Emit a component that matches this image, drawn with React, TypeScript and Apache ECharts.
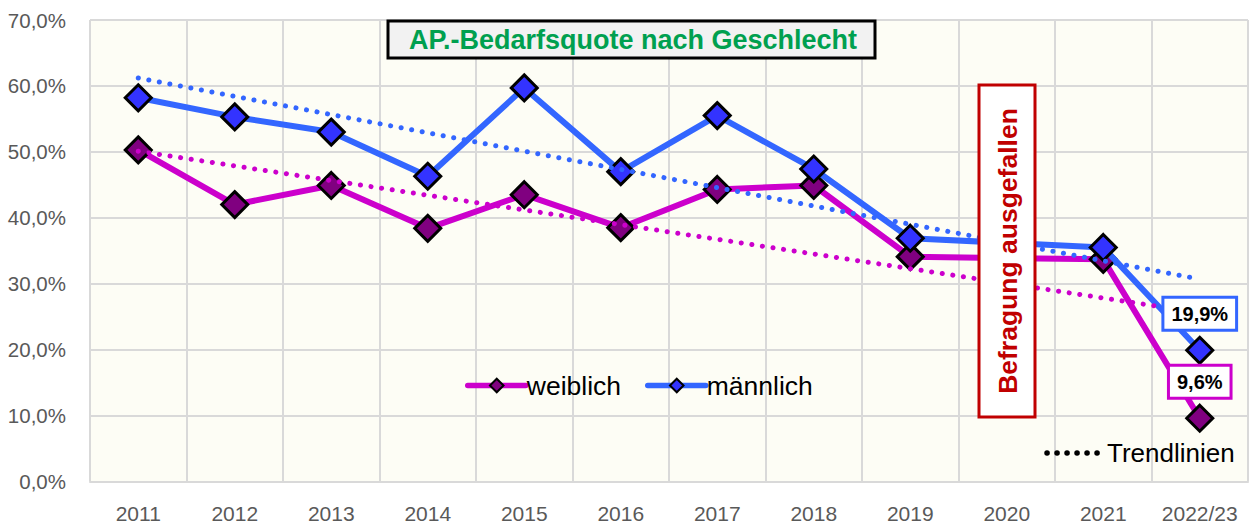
import React, { useEffect, useRef } from "react";
import * as echarts from "echarts";

const categories = ["2011", "2012", "2013", "2014", "2015", "2016", "2017", "2018", "2019", "2020", "2021", "2022/23"];
const weiblich = [50.3, 42.0, 44.9, 38.4, 43.5, 38.5, 44.3, 44.9, 34.1, null, 33.7, 9.6];
const maennlich = [58.2, 55.3, 53.0, 46.3, 59.7, 47.0, 55.5, 47.4, 36.9, null, 35.5, 19.9];
// Trendline endpoints (at 2011 and 2022/23)
const trendWeiblich = [50.1, 25.6];
const trendMaennlich = [61.2, 30.7];

const PINK = "#CC00CC";
const PURPLE = "#800080";
const BLUE = "#3366FF";
const BLUE_FILL = "#3333FF";
const GRID = "#D9D9D9";
const FONT = "'Liberation Sans', Arial, sans-serif";

const fmt = (v: number) => v.toFixed(1).replace(".", ",") + "%";

function lastOnly(values: (number | null)[]) {
  return values.map((v, i) => (i === values.length - 1 ? v : null));
}

function labelSeries(name: string, values: (number | null)[], color: string) {
  return {
    name,
    type: "scatter",
    data: lastOnly(values),
    symbolSize: 1,
    itemStyle: { color: "rgba(0,0,0,0)", opacity: 1 },
    silent: true,
    z: 20,
    label: {
      show: true,
      position: "top",
      distance: 21,
      formatter: (p: any) => fmt(p.value),
      color: "#000",
      opacity: 1,
      fontFamily: FONT,
      fontWeight: "bold",
      fontSize: 20,
      lineHeight: 23,
      backgroundColor: "#FFFFFF",
      borderColor: color,
      borderWidth: 3,
      padding: [4, 7, 3, 7],
    },
  };
}

function trendMark(ends: number[], color: string) {
  return {
    silent: true,
    symbol: ["none", "none"],
    label: { show: false },
    z: 10,
    lineStyle: { color, width: 5, type: [0.1, 10.6], cap: "round", opacity: 1 },
    data: [
      [
        { coord: [categories[0], ends[0]] },
        { coord: [categories[categories.length - 1], ends[1]] },
      ],
    ],
  };
}

export default function App() {
  const ref = useRef<HTMLDivElement>(null);
  useEffect(() => {
    const chart = echarts.init(ref.current!, null, { renderer: "svg" });
    const option: any = {
      animation: false,
      backgroundColor: "#FFFFFF",
      grid: {
        left: 90,
        right: 4,
        top: 20,
        bottom: 42.5,
        show: true,
        backgroundColor: "#FDFDF5",
        borderWidth: 0,
      },
      xAxis: {
        type: "category",
        data: categories,
        boundaryGap: true,
        axisLine: { show: true, lineStyle: { color: GRID, width: 2 } },
        axisTick: { show: false },
        axisLabel: { color: "#595959", fontSize: 21, fontFamily: FONT, margin: 21, interval: 0 },
        splitLine: { show: true, interval: 0, lineStyle: { color: GRID, width: 2 } },
      },
      yAxis: {
        type: "value",
        min: 0,
        max: 70,
        interval: 10,
        axisLine: { show: false },
        axisTick: { show: false },
        axisLabel: { color: "#595959", fontSize: 20.5, fontFamily: FONT, margin: 24, formatter: fmt },
        splitLine: { show: true, lineStyle: { color: GRID, width: 2 } },
      },
      legend: {
        data: ["weiblich", "männlich"],
        left: 465,
        top: 372,
        padding: 0,
        itemWidth: 58,
        itemHeight: 17,
        itemGap: 24,
        lineStyle: { width: 5.5, cap: "round" },
        textStyle: { fontSize: 26.5, color: "#000", fontFamily: FONT, padding: [0, 0, 0, -4] },
      },
      series: [
        {
          name: "weiblich",
          type: "line",
          data: weiblich,
          connectNulls: true,
          symbol: "diamond",
          symbolSize: 26,
          showAllSymbol: true,
          lineStyle: { color: PINK, width: 6 },
          itemStyle: { color: PURPLE, borderColor: "#000", borderWidth: 3 },
          markLine: trendMark(trendWeiblich, PINK),
          z: 3,
        },
        {
          name: "männlich",
          type: "line",
          data: maennlich,
          connectNulls: true,
          symbol: "diamond",
          symbolSize: 26,
          showAllSymbol: true,
          lineStyle: { color: BLUE, width: 6 },
          itemStyle: { color: BLUE_FILL, borderColor: "#000", borderWidth: 3 },
          markLine: trendMark(trendMaennlich, BLUE),
          z: 4,
        },
        labelSeries("label weiblich", weiblich, PINK),
        labelSeries("label männlich", maennlich, BLUE),
      ],
      graphic: [
        {
          type: "rect",
          z: 100,
          shape: { x: 388, y: 21, width: 487, height: 37 },
          style: { fill: "#F2F2F2", stroke: "#000", lineWidth: 3 },
        },
        {
          type: "text",
          z: 101,
          x: 633,
          y: 40,
          style: {
            text: "AP.-Bedarfsquote nach Geschlecht",
            fill: "#00A04F",
            font: `bold 27px ${FONT}`,
            align: "center",
            verticalAlign: "middle",
          },
        },
        {
          type: "rect",
          z: 100,
          shape: { x: 979, y: 85, width: 56, height: 332 },
          style: { fill: "#FFFFFF", stroke: "#C00000", lineWidth: 3 },
        },
        {
          type: "text",
          z: 101,
          x: 1008,
          y: 251,
          rotation: Math.PI / 2,
          style: {
            text: "Befragung ausgefallen",
            fill: "#C00000",
            font: `bold 26.5px ${FONT}`,
            align: "center",
            verticalAlign: "middle",
          },
        },
        {
          type: "line",
          z: 100,
          shape: { x1: 1047, y1: 453, x2: 1098, y2: 453 },
          style: { stroke: "#000", lineWidth: 5.5, lineDash: [0.1, 9.9], lineCap: "round" },
        },
        {
          type: "text",
          z: 100,
          x: 1107,
          y: 453,
          style: {
            text: "Trendlinien",
            fill: "#000",
            font: `26px ${FONT}`,
            align: "left",
            verticalAlign: "middle",
          },
        },
      ],
    };
    chart.setOption(option);
    return () => chart.dispose();
  }, []);
  return (
    <div
      ref={ref}
      style={{ position: "fixed", left: 0, top: 0, width: 1252, height: 524 }}
    />
  );
}
